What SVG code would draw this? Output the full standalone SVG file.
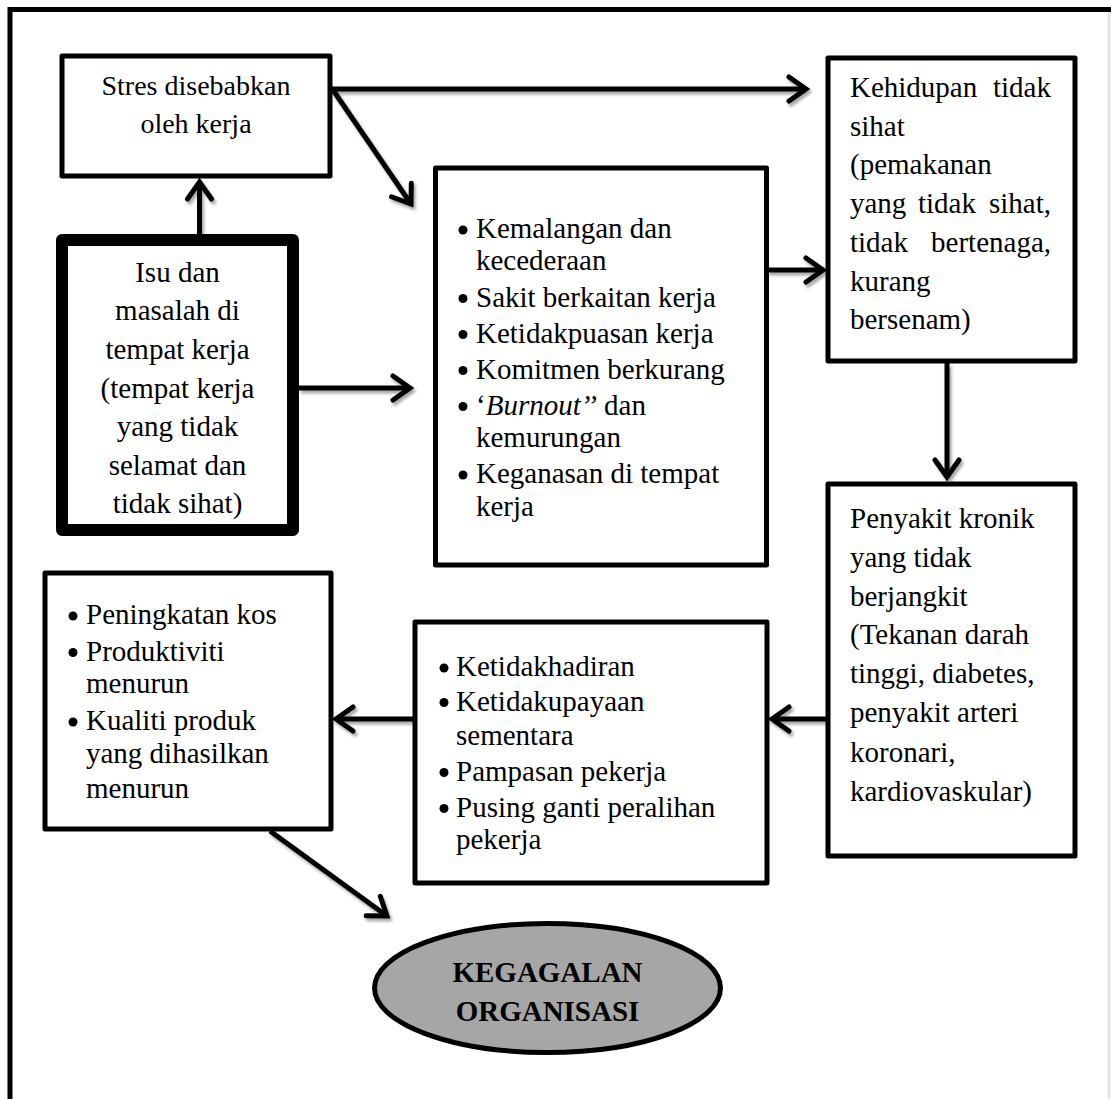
<svg xmlns="http://www.w3.org/2000/svg" width="1111" height="1099" viewBox="0 0 1111 1099">
<defs>
<style>
.t{font-family:"Liberation Serif","Times New Roman",serif;font-size:29px;fill:#000}
.c{text-anchor:middle}
.e{text-anchor:end}
.bx{fill:#fff;stroke:#000;stroke-width:5;stroke-linejoin:round}
.con{fill:none;stroke:#000;stroke-width:5}
.bul{fill:#000}
</style>
<marker id="arr" markerUnits="userSpaceOnUse" viewBox="-22 -16 26 32" refX="0" refY="0" markerWidth="26" markerHeight="32" orient="auto">
<path d="M-17,-12 L0,0 L-17,12" fill="none" stroke="#000" stroke-width="5" stroke-linecap="round" stroke-linejoin="miter"/>
</marker>
<filter id="sh" x="-20%" y="-20%" width="140%" height="140%">
<feDropShadow dx="2" dy="3" stdDeviation="1.8" flood-color="#000" flood-opacity="0.35"/>
</filter>
</defs>
<rect x="0" y="0" width="1111" height="1099" fill="#fff"/>
<g id="frame">
<path d="M10,1099 L10,9.5 L1111,9.5" fill="none" stroke="#000" stroke-width="5"/>
<line x1="1109" y1="12" x2="1109" y2="1099" stroke="#e3e3e3" stroke-width="3"/>
</g>
<g id="connectors" filter="url(#sh)">
<path class="con" d="M199.5,234 L199.5,182" marker-end="url(#arr)"/>
<path class="con" d="M332,89 L806,89" marker-end="url(#arr)"/>
<path class="con" d="M333,90 L411,204" marker-end="url(#arr)"/>
<path class="con" d="M299,388 L410,388" marker-end="url(#arr)"/>
<path class="con" d="M767,270 L823,270" marker-end="url(#arr)"/>
<path class="con" d="M947,363 L947,477" marker-end="url(#arr)"/>
<path class="con" d="M826,719 L772,719" marker-end="url(#arr)"/>
<path class="con" d="M413,719 L336,719" marker-end="url(#arr)"/>
<path class="con" d="M270,831 L387,916" marker-end="url(#arr)"/>
</g>
<g id="n-stres">
<rect class="bx" x="62" y="56" width="268" height="120"/>
<text class="t c" x="196" y="95" style="font-size:28px">Stres disebabkan</text>
<text class="t c" x="196" y="133.3" style="font-size:28px">oleh kerja</text>
</g>
<g id="n-isu">
<rect x="62" y="240" width="231" height="290" fill="#fff" stroke="#000" stroke-width="12" stroke-linejoin="round"/>
<text class="t c" x="177.5" y="281.7">Isu dan</text>
<text class="t c" x="177.5" y="320.3">masalah di</text>
<text class="t c" x="177.5" y="358.9">tempat kerja</text>
<text class="t c" x="177.5" y="397.5">(tempat kerja</text>
<text class="t c" x="177.5" y="436.1">yang tidak</text>
<text class="t c" x="177.5" y="474.7">selamat dan</text>
<text class="t c" x="177.5" y="513.3">tidak sihat)</text>
</g>
<g id="n-kesan">
<rect class="bx" x="435.5" y="168" width="331" height="397"/>
<circle class="bul" cx="463" cy="230" r="4.5"/>
<circle class="bul" cx="463" cy="298.5" r="4.5"/>
<circle class="bul" cx="463" cy="334.5" r="4.5"/>
<circle class="bul" cx="463" cy="370.5" r="4.5"/>
<circle class="bul" cx="463" cy="406.5" r="4.5"/>
<circle class="bul" cx="463" cy="475" r="4.5"/>
<text class="t" x="476" y="238">Kemalangan dan</text>
<text class="t" x="476" y="270">kecederaan</text>
<text class="t" x="476" y="306.5">Sakit berkaitan kerja</text>
<text class="t" x="476" y="342.5">Ketidakpuasan kerja</text>
<text class="t" x="476" y="378.5">Komitmen berkurang</text>
<text class="t" x="476" y="414.5">‘<tspan font-style="italic">Burnout’’</tspan> dan</text>
<text class="t" x="476" y="446.5">kemurungan</text>
<text class="t" x="476" y="483">Keganasan di tempat</text>
<text class="t" x="476" y="516">kerja</text>
</g>
<g id="n-kehidupan">
<rect class="bx" x="828" y="58" width="247" height="303"/>
<text class="t" x="850" y="97">Kehidupan</text>
<text class="t e" x="1051" y="97">tidak</text>
<text class="t" x="850" y="135.7">sihat</text>
<text class="t" x="850" y="174.4">(pemakanan</text>
<text class="t" x="850" y="213.1">yang</text>
<text class="t" x="918" y="213.1">tidak</text>
<text class="t e" x="1051" y="213.1">sihat,</text>
<text class="t" x="850" y="251.8">tidak</text>
<text class="t e" x="1051" y="251.8">bertenaga,</text>
<text class="t" x="850" y="290.5">kurang</text>
<text class="t" x="850" y="329.2">bersenam)</text>
</g>
<g id="n-penyakit">
<rect class="bx" x="828" y="484" width="247" height="372"/>
<text class="t" x="850" y="528">Penyakit kronik</text>
<text class="t" x="850" y="567">yang tidak</text>
<text class="t" x="850" y="606">berjangkit</text>
<text class="t" x="850" y="644">(Tekanan darah</text>
<text class="t" x="850" y="682.5">tinggi, diabetes,</text>
<text class="t" x="850" y="722">penyakit arteri</text>
<text class="t" x="850" y="762">koronari,</text>
<text class="t" x="850" y="800.5">kardiovaskular)</text>
</g>
<g id="n-ketidakhadiran">
<rect class="bx" x="415" y="622" width="352" height="261"/>
<circle class="bul" cx="444" cy="668" r="4.5"/>
<circle class="bul" cx="444" cy="702.5" r="4.5"/>
<circle class="bul" cx="444" cy="772.5" r="4.5"/>
<circle class="bul" cx="444" cy="808.5" r="4.5"/>
<text class="t" x="456" y="676">Ketidakhadiran</text>
<text class="t" x="456" y="710.5">Ketidakupayaan</text>
<text class="t" x="456" y="745">sementara</text>
<text class="t" x="456" y="780.5">Pampasan pekerja</text>
<text class="t" x="456" y="816.5">Pusing ganti peralihan</text>
<text class="t" x="456" y="849">pekerja</text>
</g>
<g id="n-kos">
<rect class="bx" x="45" y="573" width="286" height="256"/>
<circle class="bul" cx="73" cy="616" r="4.5"/>
<circle class="bul" cx="73" cy="652.5" r="4.5"/>
<circle class="bul" cx="73" cy="722" r="4.5"/>
<text class="t" x="86" y="624">Peningkatan kos</text>
<text class="t" x="86" y="660.5">Produktiviti</text>
<text class="t" x="86" y="693">menurun</text>
<text class="t" x="86" y="730">Kualiti produk</text>
<text class="t" x="86" y="763">yang dihasilkan</text>
<text class="t" x="86" y="798">menurun</text>
</g>
<g id="n-kegagalan">
<ellipse cx="547.5" cy="988" rx="173" ry="64.5" fill="#a6a6a6" stroke="#000" stroke-width="5"/>
<text class="t c" x="547.5" y="981.7" font-weight="bold">KEGAGALAN</text>
<text class="t c" x="547.5" y="1020.7" font-weight="bold">ORGANISASI</text>
</g>
</svg>
